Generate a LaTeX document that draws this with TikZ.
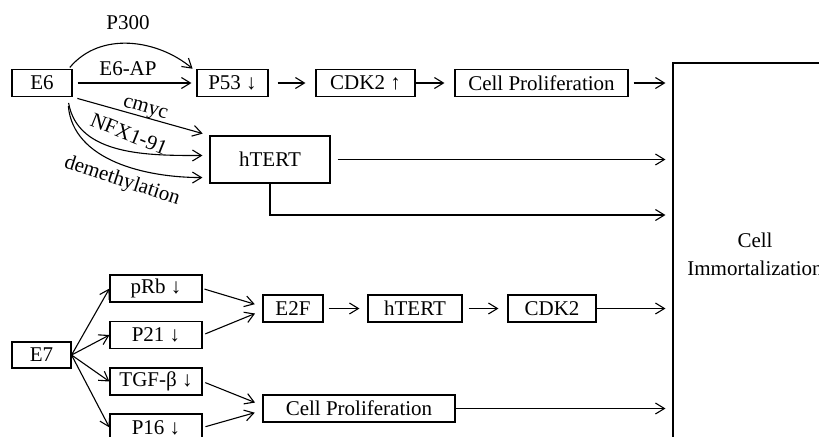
\documentclass[tikz,border=0pt]{standalone}
\usepackage{fontspec}
\setmainfont{Liberation Serif}
\usetikzlibrary{arrows.meta}

\begin{document}
\begin{tikzpicture}[x=0.5pt,y=0.5pt,
		every node/.style={font=\fontsize{10.5}{14}\selectfont, inner sep=0pt},
		box/.style={draw, line width=0.55pt, minimum height=13.5pt},
		link/.style={-{Straight Barb[length=4.5pt,width=5.5pt]}, line width=0.55pt}]
		\useasboundingbox (0,0) rectangle (819,-436);
		\clip (0,0) rectangle (819,-436);
		% E6 branch
		\node [box, minimum width=30pt] (E6) at (42,-83) {E6};
		\node [box, minimum width=35.5pt] (P53) at (232.5,-83) {P53 ↓};
		\node [box, minimum width=49.5pt] (CDKa) at (365.5,-83) {CDK2 ↑};
		\node [box, minimum width=86.5pt] (CPa) at (541.5,-83) {Cell Proliferation};
		\node [box, minimum width=60pt, minimum height=23.5pt] (hTa) at (270,-159.5) {hTERT};
		\node [box, minimum width=82pt, minimum height=191pt, align=center] (CI) at (755,-254) {Cell\\Immortalization};
		\draw [link, shorten <=1pt, shorten >=2.5pt] ([xshift=-2pt]E6.north east) to [out=50, in=140] ([yshift=-1.5pt]P53.north west);
		\node (lP300) at (128,-22.5) {P300};
		\draw [link, shorten <=2.5pt, shorten >=2.5pt] (E6) -- (P53);
		\node (lE6AP) at (128,-68.5) {E6-AP};
		\draw [link, shorten <=4.5pt, shorten >=5pt] (P53) -- (CDKa);
		\draw [link, shorten >=5pt] (CDKa) -- (CPa);
		\draw [link, shorten <=2.5pt, shorten >=3.5pt] (CPa) -- (CPa -| CI.west);
		\draw [link, shorten <=2.5pt, shorten >=3.5pt] (E6.south east) -- (hTa.north west);
		\node [rotate=-16] (lcmyc) at (145,-110) {cmyc};
		\draw [link, shorten <=3pt, shorten >=3.5pt] ([xshift=-2.5pt]E6.south east) to [out=-80, in=180] ([yshift=2pt]hTa.west);
		\node [rotate=-22] (lNFX) at (129,-134) {NFX1-91};
		\draw [link, shorten <=4.5pt, shorten >=3.5pt] ([xshift=-2.5pt]E6.south east) to [out=-85, in=180] ([yshift=3pt]hTa.south west);
		\node [rotate=-18] (ldemeth) at (122,-181.5) {demethylation};
		\draw [link, shorten <=3.5pt, shorten >=3.5pt] (hTa.east) -- (hTa.east -| CI.west);
		\draw [link, shorten >=3.5pt] (hTa.south) |- ([yshift=19.5pt]CI.west);
		% E7 branch
		\node [box, minimum width=29.5pt, minimum height=13pt] (E7) at (41.5,-355) {E7};
		\node [box, minimum width=46pt] (pRb) at (156,-288.5) {pRb ↓};
		\node [box, minimum width=46pt] (P21) at (156,-335) {P21 ↓};
		\node [box, minimum width=46pt] (TGF) at (156,-381.5) {TGF-β ↓};
		\node [box, minimum width=46pt] (P16) at (156,-427.5) {P16 ↓};
		\node [box, minimum width=30pt] (E2F) at (293,-308.5) {E2F};
		\node [box, minimum width=47pt] (hTb) at (415,-308.5) {hTERT};
		\node [box, minimum width=44pt] (CDKb) at (552,-308.5) {CDK2};
		\node [box, minimum width=96pt] (CPb) at (359,-408.5) {Cell Proliferation};
		\draw [link] (E7.east) -- (pRb.west);
		\draw [link] (E7.east) -- (P21.west);
		\draw [link] (E7.east) -- (TGF.west);
		\draw [link] (E7.east) -- (P16.west);
		\draw [link, shorten <=1pt, shorten >=4pt] (pRb.east) -- ([yshift=1pt]E2F.west);
		\draw [link, shorten <=1.5pt, shorten >=4pt] (P21.east) -- ([yshift=-1pt]E2F.west);
		\draw [link, shorten <=1.5pt, shorten >=4pt] (TGF.east) -- ([yshift=1.5pt]CPb.west);
		\draw [link, shorten <=1.5pt, shorten >=4pt] (P16.east) -- ([yshift=-1pt]CPb.west);
		\draw [link, shorten <=2.5pt, shorten >=4pt] (E2F) -- (hTb);
		\draw [link, shorten <=3pt, shorten >=4.5pt] (hTb) -- (CDKb);
		\draw [link, shorten >=3.5pt] (CDKb) -- (CDKb -| CI.west);
		\draw [link, shorten >=3.5pt] (CPb) -- (CPb -| CI.west);
	\end{tikzpicture}
\end{document}
